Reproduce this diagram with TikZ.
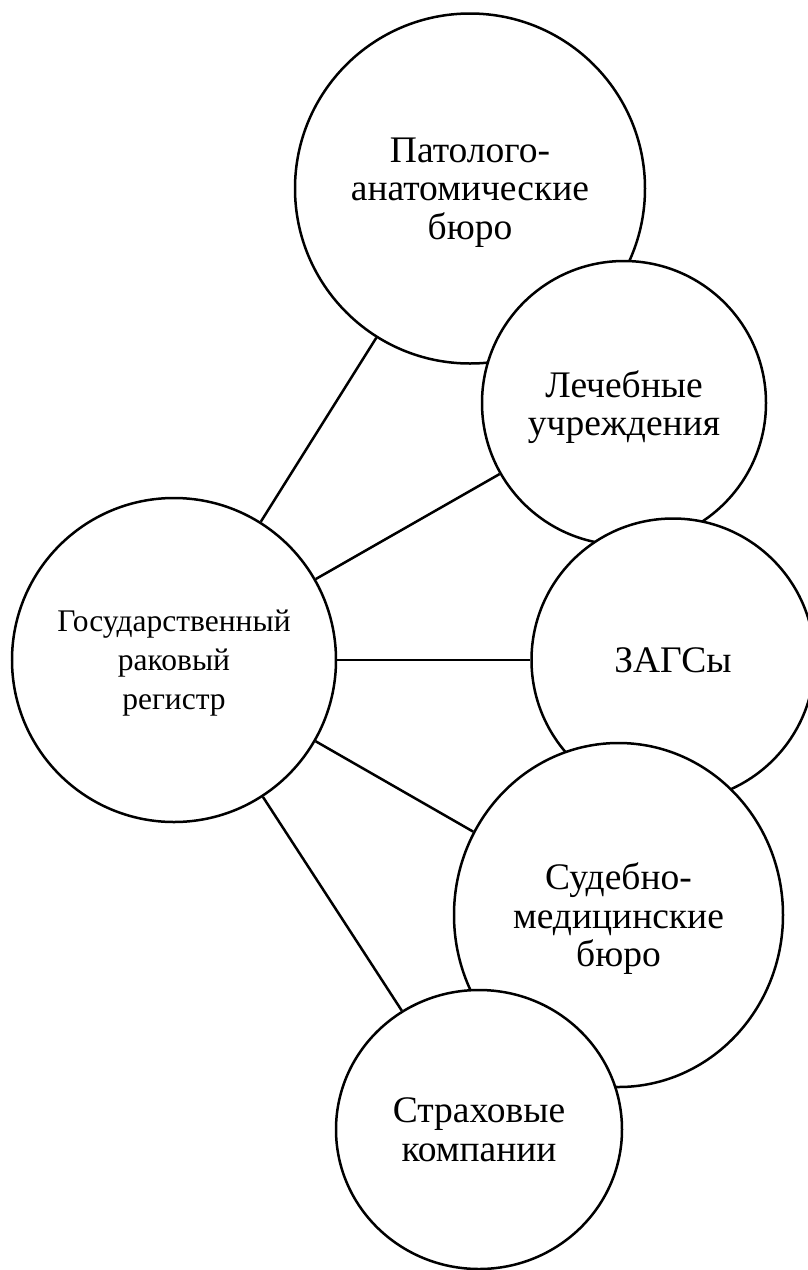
\documentclass[tikz,border=0pt]{standalone}
\usepackage{fontspec}
\setmainfont{Liberation Serif}
\usepackage{tikz}
\usetikzlibrary{shapes.geometric}

\begin{document}
\begin{tikzpicture}[x=1pt, y=-1pt, line width=2.5pt,
    org/.style={circle, fill=white, draw, align=center, inner sep=0pt, text depth=0pt,
        font=\fontsize{37.5}{38.5}\selectfont},
    orgoval/.style={org, ellipse}]
    \useasboundingbox (0, 0) rectangle (808, 1270);
    \node [org, minimum size=324pt, font=\fontsize{31.5}{39}\selectfont] (reg) at (174, 660) {Государственный\\раковый\\регистр};
    \node [org, minimum size=350pt] (pat) at (470, 188.5) {Патолого-\\анатомические\\бюро};
    \node [org, minimum size=284pt] (lech) at (624, 403) {Лечебные\\учреждения};
    \node [org, minimum size=283pt] (zags) at (673, 660) {ЗАГСы};
    \node [orgoval, minimum width=329pt, minimum height=344pt] (sud) at (618.5, 915) {Судебно-\\медицинские\\бюро};
    \node [orgoval, minimum width=286pt, minimum height=279pt] (strah) at (479, 1129.5) {Страховые\\компании};
    \draw (reg) -- (pat);
    \draw (reg) -- (lech);
    \draw (reg) -- (zags);
    \draw (reg) -- (sud);
    \draw (reg) -- (strah);
\end{tikzpicture}
\end{document}
